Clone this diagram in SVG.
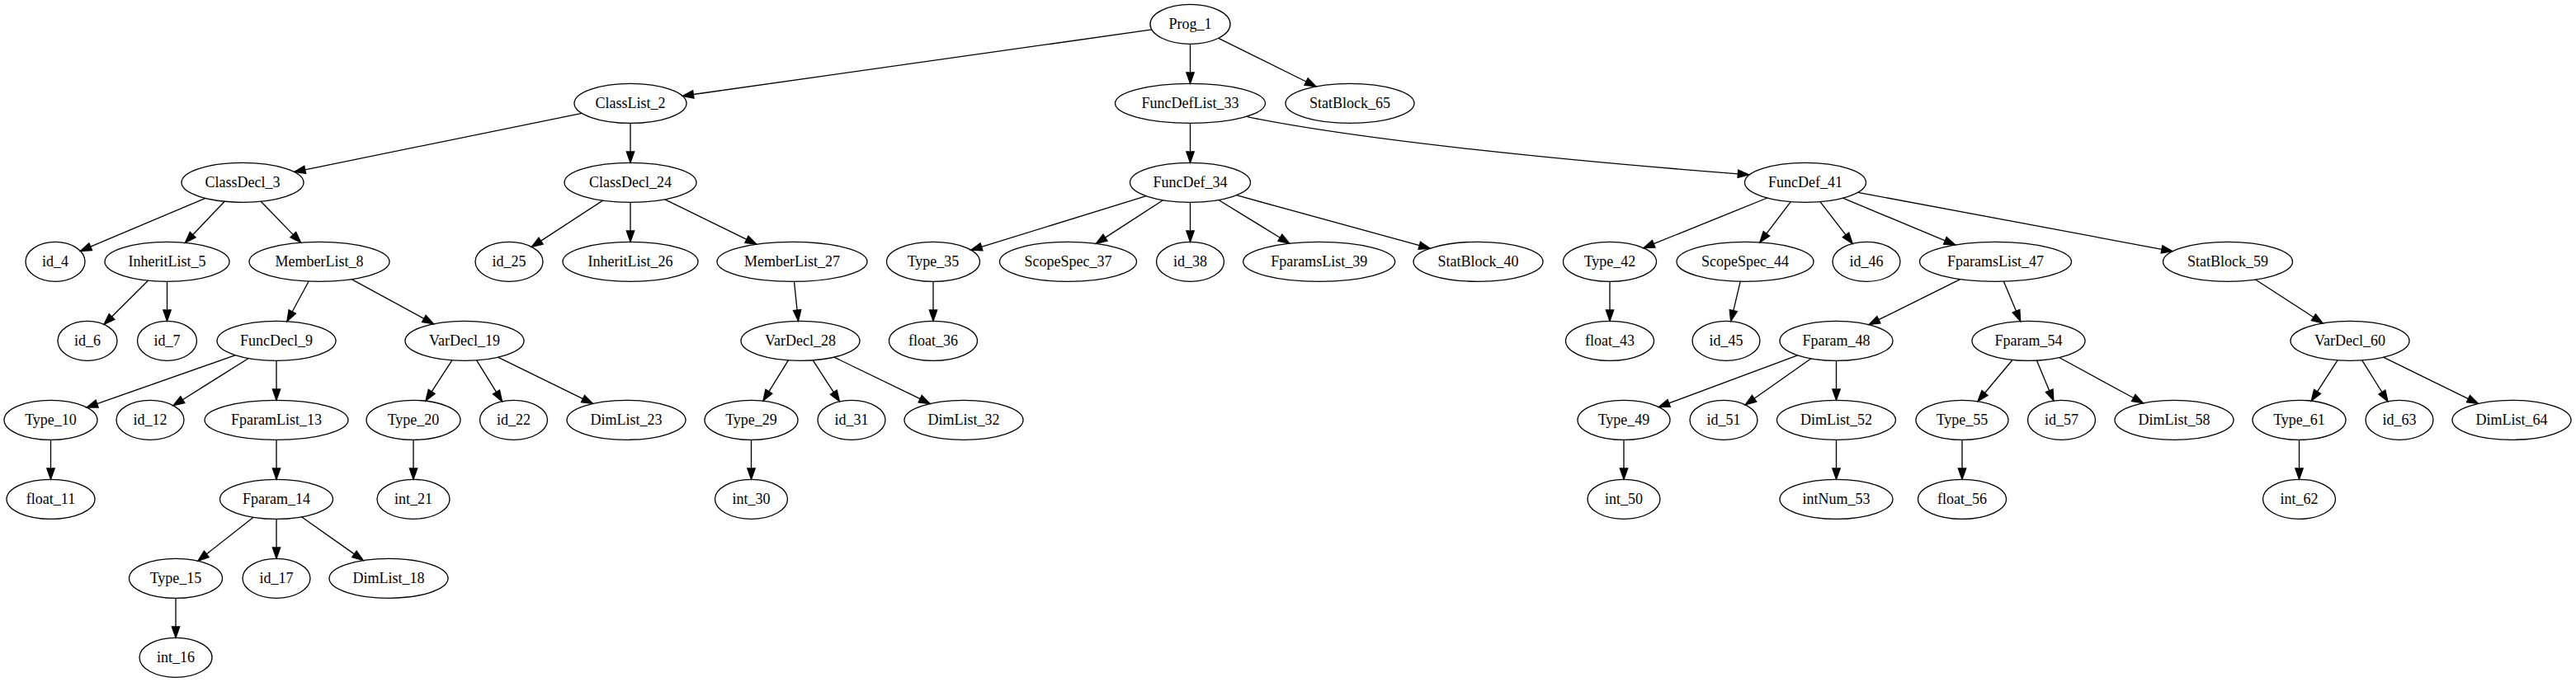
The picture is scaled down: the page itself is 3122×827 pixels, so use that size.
<svg xmlns="http://www.w3.org/2000/svg" width="3122" height="827" viewBox="0 0 3122 827">
<defs>
<style>
.n ellipse{fill:none;stroke:#000;stroke-width:1.33}
.n text{font-family:"Liberation Serif","Times New Roman",serif;font-size:18px;text-anchor:middle;fill:#000}
.e path{fill:none;stroke:#000;stroke-width:1.33}
</style>
<marker id="ah" markerUnits="userSpaceOnUse" viewBox="-1 -6 16 12" markerWidth="16" markerHeight="12" refX="0" refY="0" orient="auto" overflow="visible">
<path d="M0,-4.67 L13.33,0 L0,4.67 Z" fill="#000" stroke="#000" stroke-width="1.33"/>
</marker>
</defs>
<rect x="0" y="0" width="3122" height="827" fill="#fff"/>
<g id="edges" class="e" marker-end="url(#ah)">
<path d="M1395.9,35.9 L840.3,114.5" marker-end="url(#ah)"/>
<path d="M1442.5,53.3 L1442.5,88" marker-end="url(#ah)"/>
<path d="M1476.8,46.3 L1583,99" marker-end="url(#ah)"/>
<path d="M705.2,137.3 L369.7,205.8" marker-end="url(#ah)"/>
<path d="M764,149.3 L764,184" marker-end="url(#ah)"/>
<path d="M1442.5,149.3 L1442.5,184" marker-end="url(#ah)"/>
<path d="M1511.7,141.7 C1650,170 1900,195 2106.4,210.8" marker-end="url(#ah)"/>
<path d="M249,240.3 L109.7,299.2" marker-end="url(#ah)"/>
<path d="M272.2,244.2 L233.6,284.7" marker-end="url(#ah)"/>
<path d="M316.2,244.2 L355.3,284.6" marker-end="url(#ah)"/>
<path d="M179.5,340.2 L135.5,384" marker-end="url(#ah)"/>
<path d="M202.5,341.3 L202.5,376" marker-end="url(#ah)"/>
<path d="M374.2,341 L354.2,378" marker-end="url(#ah)"/>
<path d="M426.1,338.6 L513.8,386.4" marker-end="url(#ah)"/>
<path d="M285.4,430.7 L117.6,489.6" marker-end="url(#ah)"/>
<path d="M301.2,434.5 L221.3,484.7" marker-end="url(#ah)"/>
<path d="M335,437.3 L335,472" marker-end="url(#ah)"/>
<path d="M61.5,533.3 L61.5,568" marker-end="url(#ah)"/>
<path d="M335,533.3 L335,568" marker-end="url(#ah)"/>
<path d="M307.1,627.2 L250.3,671.9" marker-end="url(#ah)"/>
<path d="M335,629.3 L335,664" marker-end="url(#ah)"/>
<path d="M365.5,626.8 L429.4,671.9" marker-end="url(#ah)"/>
<path d="M213,725.3 L213,760" marker-end="url(#ah)"/>
<path d="M547.9,436.8 L523.2,474.9" marker-end="url(#ah)"/>
<path d="M577.6,436.8 L601.5,475.4" marker-end="url(#ah)"/>
<path d="M603.5,433.1 L706.5,483.6" marker-end="url(#ah)"/>
<path d="M501,533.3 L501,568" marker-end="url(#ah)"/>
<path d="M730.6,243.1 L655.5,292.1" marker-end="url(#ah)"/>
<path d="M764,245.3 L764,280" marker-end="url(#ah)"/>
<path d="M805.8,241.8 L904.9,290.3" marker-end="url(#ah)"/>
<path d="M962.5,341.3 L966.1,376" marker-end="url(#ah)"/>
<path d="M955.4,436.8 L931.9,474.8" marker-end="url(#ah)"/>
<path d="M985.2,436.8 L1010.3,475.7" marker-end="url(#ah)"/>
<path d="M1010.8,433.1 L1115.2,483.7" marker-end="url(#ah)"/>
<path d="M910.5,533.3 L910.5,568" marker-end="url(#ah)"/>
<path d="M1389.2,237.7 L1189.5,299.3" marker-end="url(#ah)"/>
<path d="M1409.5,242.7 L1339.5,288.1" marker-end="url(#ah)"/>
<path d="M1442.5,245.3 L1442.5,280" marker-end="url(#ah)"/>
<path d="M1476.9,242.5 L1551.4,288.2" marker-end="url(#ah)"/>
<path d="M1498.5,236.7 L1720.3,297.7" marker-end="url(#ah)"/>
<path d="M1131,341.3 L1131,376" marker-end="url(#ah)"/>
<path d="M2141.9,240 L2004.2,295.7" marker-end="url(#ah)"/>
<path d="M2170.3,244.6 L2140.9,283.3" marker-end="url(#ah)"/>
<path d="M2205.9,244.6 L2237,284.9" marker-end="url(#ah)"/>
<path d="M2233.4,240.2 L2357.4,291.8" marker-end="url(#ah)"/>
<path d="M2251.7,233.3 L2620,302.3" marker-end="url(#ah)"/>
<path d="M1951,341.3 L1951,376" marker-end="url(#ah)"/>
<path d="M2109.3,341.2 L2100.8,376.6" marker-end="url(#ah)"/>
<path d="M2375.8,338.6 L2276.9,387.7" marker-end="url(#ah)"/>
<path d="M2428.4,341.2 L2443.5,377.3" marker-end="url(#ah)"/>
<path d="M2733.5,339 L2803.9,384.7" marker-end="url(#ah)"/>
<path d="M2178.6,430.8 L2022.7,488.9" marker-end="url(#ah)"/>
<path d="M2195,434.8 L2126.1,483.2" marker-end="url(#ah)"/>
<path d="M2225.5,437.3 L2225.5,472" marker-end="url(#ah)"/>
<path d="M1968,533.3 L1968,568" marker-end="url(#ah)"/>
<path d="M2225.5,533.3 L2225.5,568" marker-end="url(#ah)"/>
<path d="M2439.2,436.3 L2405.5,476.5" marker-end="url(#ah)"/>
<path d="M2468.4,437.1 L2483.7,473.7" marker-end="url(#ah)"/>
<path d="M2495.6,433.5 L2585.7,482.5" marker-end="url(#ah)"/>
<path d="M2378,533.3 L2378,568" marker-end="url(#ah)"/>
<path d="M2833,436.8 L2808.5,474.9" marker-end="url(#ah)"/>
<path d="M2862.7,436.8 L2886.9,475.5" marker-end="url(#ah)"/>
<path d="M2888.5,433.1 L2991.5,483.6" marker-end="url(#ah)"/>
<path d="M2786.5,533.3 L2786.5,568" marker-end="url(#ah)"/>
</g>
<g id="Prog_1" class="n"><ellipse cx="1442.5" cy="29.3" rx="48.5" ry="24"/><text x="1442.5" y="34.8">Prog_1</text></g>
<g id="ClassList_2" class="n"><ellipse cx="764" cy="125.3" rx="68" ry="24"/><text x="764" y="130.8">ClassList_2</text></g>
<g id="FuncDefList_33" class="n"><ellipse cx="1442.5" cy="125.3" rx="91" ry="24"/><text x="1442.5" y="130.8">FuncDefList_33</text></g>
<g id="StatBlock_65" class="n"><ellipse cx="1636" cy="125.3" rx="78" ry="24"/><text x="1636" y="130.8">StatBlock_65</text></g>
<g id="ClassDecl_3" class="n"><ellipse cx="294" cy="221.3" rx="74" ry="24"/><text x="294" y="226.8">ClassDecl_3</text></g>
<g id="ClassDecl_24" class="n"><ellipse cx="764" cy="221.3" rx="80" ry="24"/><text x="764" y="226.8">ClassDecl_24</text></g>
<g id="FuncDef_34" class="n"><ellipse cx="1442.5" cy="221.3" rx="73" ry="24"/><text x="1442.5" y="226.8">FuncDef_34</text></g>
<g id="FuncDef_41" class="n"><ellipse cx="2188" cy="221.3" rx="73.5" ry="24"/><text x="2188" y="226.8">FuncDef_41</text></g>
<g id="id_4" class="n"><ellipse cx="67" cy="317.3" rx="36" ry="24"/><text x="67" y="322.8">id_4</text></g>
<g id="InheritList_5" class="n"><ellipse cx="202.5" cy="317.3" rx="75.5" ry="24"/><text x="202.5" y="322.8">InheritList_5</text></g>
<g id="MemberList_8" class="n"><ellipse cx="387" cy="317.3" rx="85" ry="24"/><text x="387" y="322.8">MemberList_8</text></g>
<g id="id_25" class="n"><ellipse cx="617" cy="317.3" rx="41" ry="24"/><text x="617" y="322.8">id_25</text></g>
<g id="InheritList_26" class="n"><ellipse cx="764" cy="317.3" rx="82" ry="24"/><text x="764" y="322.8">InheritList_26</text></g>
<g id="MemberList_27" class="n"><ellipse cx="960" cy="317.3" rx="91" ry="24"/><text x="960" y="322.8">MemberList_27</text></g>
<g id="Type_35" class="n"><ellipse cx="1131" cy="317.3" rx="56.5" ry="24"/><text x="1131" y="322.8">Type_35</text></g>
<g id="ScopeSpec_37" class="n"><ellipse cx="1294.5" cy="317.3" rx="83" ry="24"/><text x="1294.5" y="322.8">ScopeSpec_37</text></g>
<g id="id_38" class="n"><ellipse cx="1442.5" cy="317.3" rx="41" ry="24"/><text x="1442.5" y="322.8">id_38</text></g>
<g id="FparamsList_39" class="n"><ellipse cx="1598.7" cy="317.3" rx="92" ry="24"/><text x="1598.7" y="322.8">FparamsList_39</text></g>
<g id="StatBlock_40" class="n"><ellipse cx="1791.5" cy="317.3" rx="78.5" ry="24"/><text x="1791.5" y="322.8">StatBlock_40</text></g>
<g id="Type_42" class="n"><ellipse cx="1951" cy="317.3" rx="56.5" ry="24"/><text x="1951" y="322.8">Type_42</text></g>
<g id="ScopeSpec_44" class="n"><ellipse cx="2115" cy="317.3" rx="83" ry="24"/><text x="2115" y="322.8">ScopeSpec_44</text></g>
<g id="id_46" class="n"><ellipse cx="2262" cy="317.3" rx="41" ry="24"/><text x="2262" y="322.8">id_46</text></g>
<g id="FparamsList_47" class="n"><ellipse cx="2418.5" cy="317.3" rx="92" ry="24"/><text x="2418.5" y="322.8">FparamsList_47</text></g>
<g id="StatBlock_59" class="n"><ellipse cx="2700" cy="317.3" rx="78.5" ry="24"/><text x="2700" y="322.8">StatBlock_59</text></g>
<g id="id_6" class="n"><ellipse cx="106" cy="413.3" rx="36" ry="24"/><text x="106" y="418.8">id_6</text></g>
<g id="id_7" class="n"><ellipse cx="202.5" cy="413.3" rx="36" ry="24"/><text x="202.5" y="418.8">id_7</text></g>
<g id="FuncDecl_9" class="n"><ellipse cx="335" cy="413.3" rx="72" ry="24"/><text x="335" y="418.8">FuncDecl_9</text></g>
<g id="VarDecl_19" class="n"><ellipse cx="563" cy="413.3" rx="72" ry="24"/><text x="563" y="418.8">VarDecl_19</text></g>
<g id="VarDecl_28" class="n"><ellipse cx="970" cy="413.3" rx="72" ry="24"/><text x="970" y="418.8">VarDecl_28</text></g>
<g id="float_36" class="n"><ellipse cx="1131" cy="413.3" rx="53.5" ry="24"/><text x="1131" y="418.8">float_36</text></g>
<g id="float_43" class="n"><ellipse cx="1951" cy="413.3" rx="53.5" ry="24"/><text x="1951" y="418.8">float_43</text></g>
<g id="id_45" class="n"><ellipse cx="2092" cy="413.3" rx="41" ry="24"/><text x="2092" y="418.8">id_45</text></g>
<g id="Fparam_48" class="n"><ellipse cx="2225.5" cy="413.3" rx="68.5" ry="24"/><text x="2225.5" y="418.8">Fparam_48</text></g>
<g id="Fparam_54" class="n"><ellipse cx="2458.5" cy="413.3" rx="68.5" ry="24"/><text x="2458.5" y="418.8">Fparam_54</text></g>
<g id="VarDecl_60" class="n"><ellipse cx="2848" cy="413.3" rx="72" ry="24"/><text x="2848" y="418.8">VarDecl_60</text></g>
<g id="Type_10" class="n"><ellipse cx="61.5" cy="509.3" rx="56.5" ry="24"/><text x="61.5" y="514.8">Type_10</text></g>
<g id="id_12" class="n"><ellipse cx="182" cy="509.3" rx="41" ry="24"/><text x="182" y="514.8">id_12</text></g>
<g id="FparamList_13" class="n"><ellipse cx="335" cy="509.3" rx="87" ry="24"/><text x="335" y="514.8">FparamList_13</text></g>
<g id="Type_20" class="n"><ellipse cx="501" cy="509.3" rx="57" ry="24"/><text x="501" y="514.8">Type_20</text></g>
<g id="id_22" class="n"><ellipse cx="622.5" cy="509.3" rx="41" ry="24"/><text x="622.5" y="514.8">id_22</text></g>
<g id="DimList_23" class="n"><ellipse cx="759" cy="509.3" rx="72" ry="24"/><text x="759" y="514.8">DimList_23</text></g>
<g id="Type_29" class="n"><ellipse cx="910.5" cy="509.3" rx="56.5" ry="24"/><text x="910.5" y="514.8">Type_29</text></g>
<g id="id_31" class="n"><ellipse cx="1032" cy="509.3" rx="41" ry="24"/><text x="1032" y="514.8">id_31</text></g>
<g id="DimList_32" class="n"><ellipse cx="1168" cy="509.3" rx="72" ry="24"/><text x="1168" y="514.8">DimList_32</text></g>
<g id="Type_49" class="n"><ellipse cx="1968" cy="509.3" rx="56" ry="24"/><text x="1968" y="514.8">Type_49</text></g>
<g id="id_51" class="n"><ellipse cx="2089" cy="509.3" rx="41" ry="24"/><text x="2089" y="514.8">id_51</text></g>
<g id="DimList_52" class="n"><ellipse cx="2225.5" cy="509.3" rx="72" ry="24"/><text x="2225.5" y="514.8">DimList_52</text></g>
<g id="Type_55" class="n"><ellipse cx="2378" cy="509.3" rx="56" ry="24"/><text x="2378" y="514.8">Type_55</text></g>
<g id="id_57" class="n"><ellipse cx="2498.5" cy="509.3" rx="41" ry="24"/><text x="2498.5" y="514.8">id_57</text></g>
<g id="DimList_58" class="n"><ellipse cx="2635" cy="509.3" rx="72" ry="24"/><text x="2635" y="514.8">DimList_58</text></g>
<g id="Type_61" class="n"><ellipse cx="2786.5" cy="509.3" rx="56.5" ry="24"/><text x="2786.5" y="514.8">Type_61</text></g>
<g id="id_63" class="n"><ellipse cx="2908" cy="509.3" rx="41" ry="24"/><text x="2908" y="514.8">id_63</text></g>
<g id="DimList_64" class="n"><ellipse cx="3044" cy="509.3" rx="72" ry="24"/><text x="3044" y="514.8">DimList_64</text></g>
<g id="float_11" class="n"><ellipse cx="61.5" cy="605.3" rx="53.5" ry="24"/><text x="61.5" y="610.8">float_11</text></g>
<g id="Fparam_14" class="n"><ellipse cx="335" cy="605.3" rx="68.5" ry="24"/><text x="335" y="610.8">Fparam_14</text></g>
<g id="int_21" class="n"><ellipse cx="501" cy="605.3" rx="44" ry="24"/><text x="501" y="610.8">int_21</text></g>
<g id="int_30" class="n"><ellipse cx="910.5" cy="605.3" rx="44" ry="24"/><text x="910.5" y="610.8">int_30</text></g>
<g id="int_50" class="n"><ellipse cx="1968" cy="605.3" rx="44" ry="24"/><text x="1968" y="610.8">int_50</text></g>
<g id="intNum_53" class="n"><ellipse cx="2225.5" cy="605.3" rx="68.5" ry="24"/><text x="2225.5" y="610.8">intNum_53</text></g>
<g id="float_56" class="n"><ellipse cx="2378" cy="605.3" rx="53.5" ry="24"/><text x="2378" y="610.8">float_56</text></g>
<g id="int_62" class="n"><ellipse cx="2786.5" cy="605.3" rx="44" ry="24"/><text x="2786.5" y="610.8">int_62</text></g>
<g id="Type_15" class="n"><ellipse cx="213" cy="701.3" rx="56.5" ry="24"/><text x="213" y="706.8">Type_15</text></g>
<g id="id_17" class="n"><ellipse cx="335" cy="701.3" rx="41" ry="24"/><text x="335" y="706.8">id_17</text></g>
<g id="DimList_18" class="n"><ellipse cx="471" cy="701.3" rx="72" ry="24"/><text x="471" y="706.8">DimList_18</text></g>
<g id="int_16" class="n"><ellipse cx="213" cy="797.3" rx="44" ry="24"/><text x="213" y="802.8">int_16</text></g>
</svg>
